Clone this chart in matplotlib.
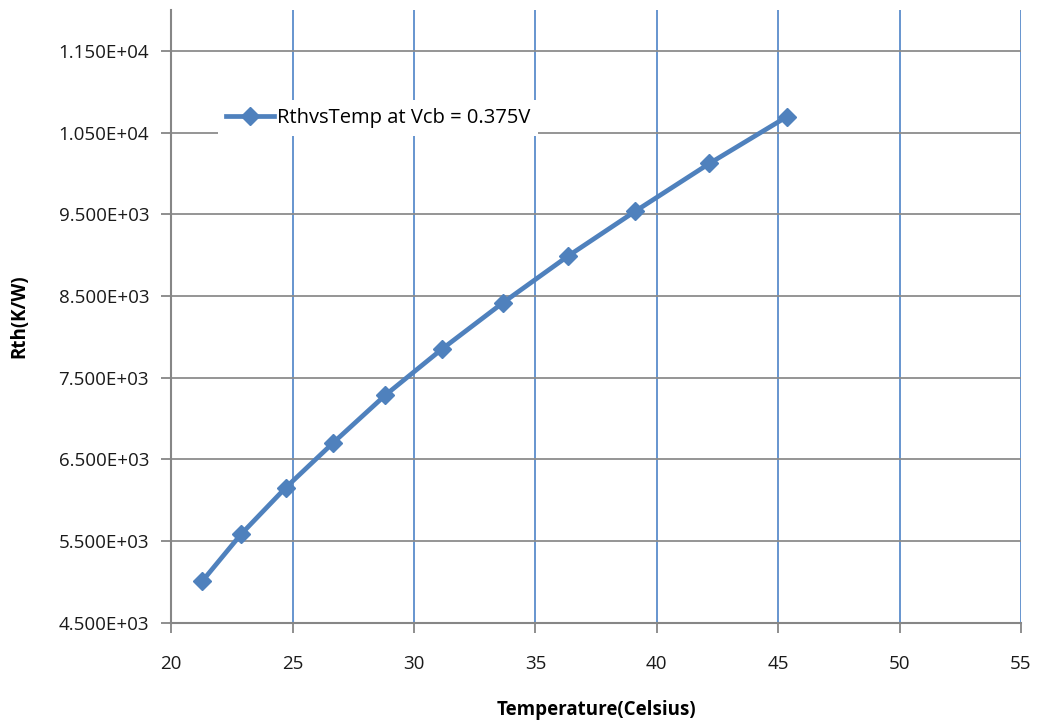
import matplotlib
matplotlib.use("Agg")
import matplotlib.pyplot as plt
from matplotlib.ticker import FuncFormatter, MultipleLocator, FixedLocator

# Thermal resistance vs temperature
temperature = [21.28, 22.87, 24.71, 26.67, 28.82, 31.15, 33.66, 36.34, 39.12, 42.17, 45.35]
rth = [5010, 5582, 6152, 6703, 7287, 7850, 8417, 8988, 9539, 10123, 10693]
series_label = "RthvsTemp at Vcb = 0.375V"
x_label = "Temperature(Celsius)"
y_label = "Rth(K/W)"
y_ticks = [4500, 5500, 6500, 7500, 8500, 9500, 10500, 11500]

plt.rcParams["font.family"] = ["Open Sans", "DejaVu Sans"]

fig = plt.figure(figsize=(10.38, 7.21), dpi=100)
ax = fig.add_axes([0.165, 0.1363, 0.8186, 0.8497])

line_color = "#4F81BD"
vgrid_color = "#5B8CCB"
hgrid_color = "#8C8C8C"
spine_color = "#868686"
fs = 13.5

ax.plot(temperature, rth, color=line_color, lw=3.4, marker="D", ms=9,
        mfc=line_color, mec=line_color, label=series_label, zorder=3)

ax.set_xlim(20, 55)
ax.set_ylim(4500, 12000)
ax.xaxis.set_major_locator(MultipleLocator(5))
ax.yaxis.set_major_locator(FixedLocator(y_ticks))
ax.yaxis.set_major_formatter(FuncFormatter(lambda v, p: f"{v:.3E}"))

ax.grid(axis="x", color=vgrid_color, lw=1.3)
ax.grid(axis="y", color=hgrid_color, lw=1.3)
ax.set_axisbelow(True)

for s in ("top", "right"):
    ax.spines[s].set_visible(False)
for s in ("left", "bottom"):
    ax.spines[s].set_color(spine_color)
    ax.spines[s].set_linewidth(1.5)

ax.tick_params(axis="both", direction="out", length=7, width=1.3,
               color=spine_color, labelsize=fs, labelcolor="#1a1a1a")
ax.tick_params(axis="x", pad=16)
ax.tick_params(axis="y", pad=9)

ax.set_xlabel(x_label, fontsize=fs, fontweight="bold", labelpad=20)
ax.set_ylabel(y_label, fontsize=fs, fontweight="bold", labelpad=21)

leg = ax.legend(loc="center left", bbox_to_anchor=(0.0545, 0.8237), frameon=True,
                fontsize=14.5, handlelength=2.4, handletextpad=0.15,
                borderpad=0.4, borderaxespad=0, fancybox=False)
leg.get_frame().set_facecolor("white")
leg.get_frame().set_edgecolor("none")
leg.get_frame().set_alpha(1)

fig.savefig("out.png", dpi=100)
